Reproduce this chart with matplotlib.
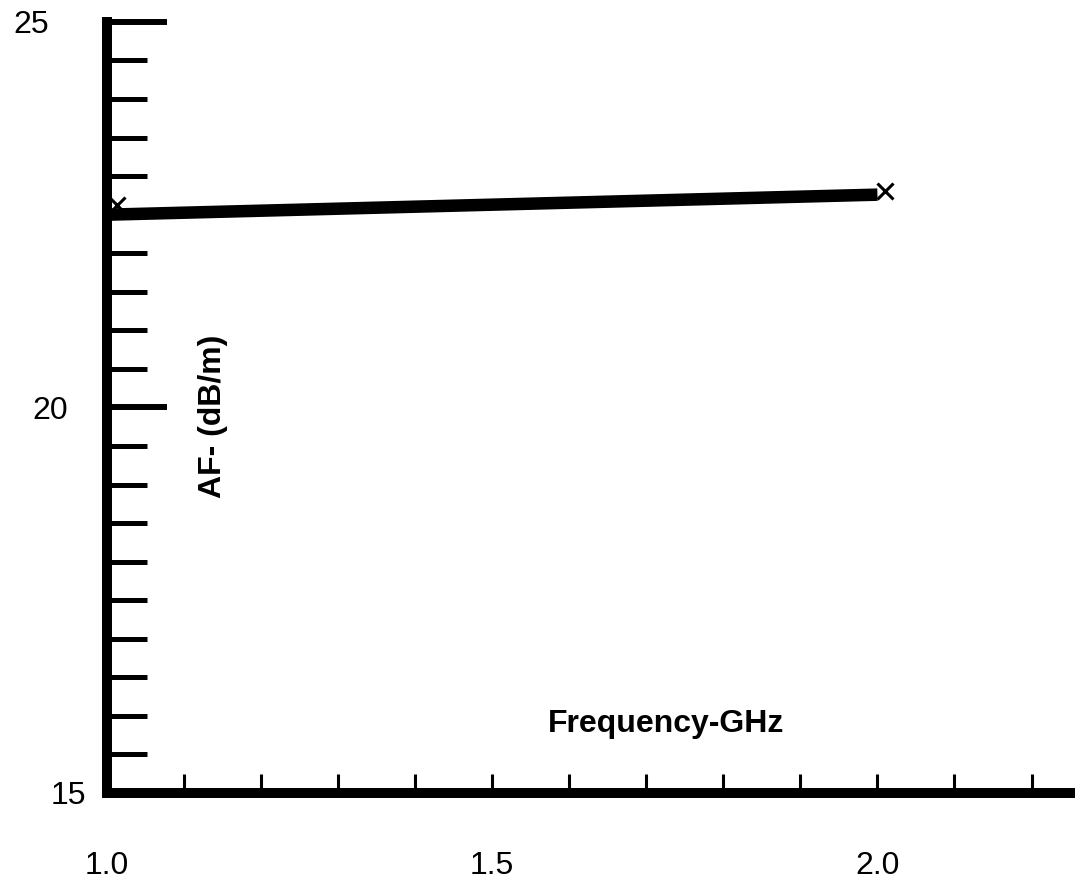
import matplotlib
matplotlib.use('Agg')
import matplotlib.pyplot as plt
import matplotlib.transforms as mtransforms
import numpy as np

# data
freq_ghz = [1.0, 2.0]
af_db = [22.5, 22.76]
marker_freq = [1.013, 2.01]
marker_af = [22.62, 22.81]

x_major = [1.0, 1.5, 2.0]
x_labels = ['1.0', '1.5', '2.0']
y_major = [15, 20, 25]
y_labels = ['15', '20', '25']

plt.rcParams['font.family'] = ['Liberation Sans', 'DejaVu Sans']

fig = plt.figure(figsize=(10.79, 8.88), dpi=100)
ax = fig.add_axes([0.0992, 0.107, 0.8925, 0.8683])

ax.plot(freq_ghz, af_db, color='black', linewidth=9, solid_capstyle='butt')
ax.plot(marker_freq, marker_af, linestyle='none', marker='x', color='black',
        markersize=11, markeredgewidth=2.2, clip_on=False)

ax.set_xlim(1.0, 2.25)
ax.set_ylim(15, 25)

for side in ['top', 'right']:
    ax.spines[side].set_visible(False)
for side in ['left', 'bottom']:
    ax.spines[side].set_linewidth(7.2)
    ax.spines[side].set_capstyle('projecting')

ax.set_xticks(x_major, x_labels)
ax.set_xticks(np.arange(1.1, 2.25, 0.1), minor=True)
ax.set_yticks(y_major, y_labels)
ax.set_yticks(np.arange(15.5, 25, 0.5), minor=True)

ax.tick_params(axis='x', which='both', direction='in', length=14, width=2.2,
               pad=42, labelsize=23)
ax.tick_params(axis='y', which='major', direction='in', length=43, width=4.3,
               pad=28, labelsize=23)
ax.tick_params(axis='y', which='minor', direction='in', length=29, width=3.6)

# the y tick labels drift right going down in the original
for lab, dx in zip(ax.get_yticklabels(), [18, 0, -19]):
    lab.set_transform(lab.get_transform() +
                      mtransforms.ScaledTranslation(dx / 100, 0, fig.dpi_scale_trans))

ax.text(1.138, 19.88, 'AF- (dB/m)', rotation=90, ha='center', va='center',
        fontsize=23, fontweight='bold')
ax.text(1.725, 15.89, 'Frequency-GHz', ha='center', va='center',
        fontsize=23, fontweight='bold')

fig.savefig('out.png', dpi=100)
